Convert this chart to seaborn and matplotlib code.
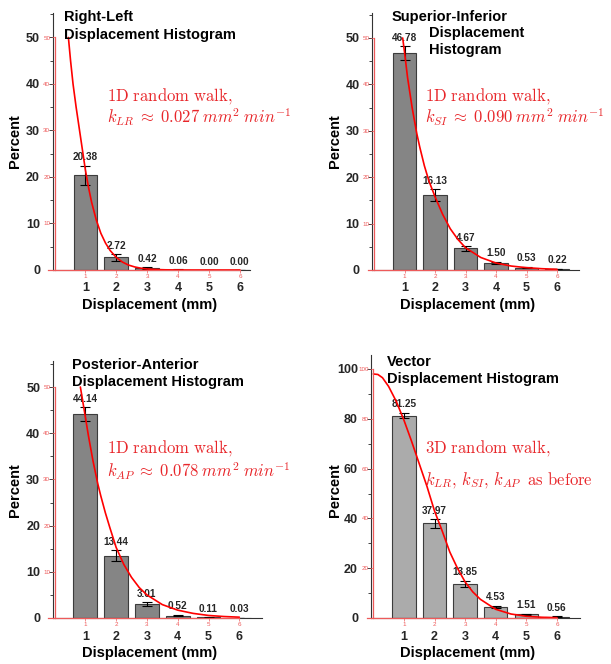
import numpy as np
import pandas as pd
import matplotlib
matplotlib.use("Agg")
import matplotlib.pyplot as plt
import seaborn as sns

sns.set_style("white")
plt.rcParams["font.family"] = ["Liberation Sans", "DejaVu Sans"]
plt.rcParams["mathtext.fontset"] = "cm"

# ---- data -------------------------------------------------------------
displacement_mm = [1, 2, 3, 4, 5, 6]

rl_pct = [20.38, 2.72, 0.42, 0.06, 0.00, 0.00]
rl_err = [2.0, 0.7, 0.2, 0.05, 0.0, 0.0]
si_pct = [46.78, 16.13, 4.67, 1.50, 0.53, 0.22]
si_err = [1.5, 1.3, 0.5, 0.25, 0.15, 0.08]
ap_pct = [44.14, 13.44, 3.01, 0.52, 0.11, 0.03]
ap_err = [1.5, 1.2, 0.45, 0.15, 0.06, 0.03]
vec_pct = [81.25, 37.97, 13.85, 4.53, 1.51, 0.56]
vec_err = [1.1, 1.7, 1.2, 0.4, 0.25, 0.15]

# random-walk model curves (percent vs displacement)
rl_fit_x = [0.45, 0.52, 0.6, 0.7, 0.8, 0.9, 1.0, 1.1, 1.2, 1.35, 1.5, 1.65, 1.8,
            2.0, 2.2, 2.4, 2.6, 2.8, 3.0, 3.3, 3.6, 4.0, 4.5, 5.0, 5.5, 6.0]
rl_fit_y = [50, 45, 40, 35, 30.5, 26, 21.5, 17.8, 14.6, 10.8, 7.9, 5.8, 4.2,
            2.7, 1.7, 1.05, 0.65, 0.38, 0.22, 0.1, 0.04, 0.01, 0, 0, 0, 0]
si_fit_x = [0.94, 1.0, 1.1, 1.25, 1.4, 1.5, 1.65, 1.8, 2.0, 2.25, 2.5, 2.75, 3.0,
            3.5, 4.0, 4.5, 5.0, 5.5, 6.0]
si_fit_y = [50, 47, 41.5, 35, 29.5, 26.5, 22.5, 19.2, 15.8, 12.0, 8.9, 6.6, 4.8,
            2.7, 1.5, 0.85, 0.5, 0.28, 0.15]
ap_fit_x = [0.84, 0.92, 1.0, 1.1, 1.25, 1.4, 1.5, 1.65, 1.8, 2.0, 2.25, 2.5, 2.75,
            3.0, 3.5, 4.0, 4.5, 5.0, 5.5, 6.0]
ap_fit_y = [50, 46.8, 43.6, 39.5, 34, 29.2, 26.5, 22.8, 19.5, 15.3, 11.6, 8.8, 6.6,
            5.0, 2.9, 1.7, 1.0, 0.55, 0.32, 0.18]
vec_fit_x = [0.0, 0.15, 0.3, 0.5, 0.75, 1.0, 1.25, 1.5, 1.75, 2.0, 2.25, 2.5,
             2.75, 3.0, 3.25, 3.5, 4.0, 4.5, 5.0, 5.5, 6.0]
vec_fit_y = [98, 97.8, 96.5, 93, 87, 79.5, 71, 62, 53, 43, 35, 26.5,
             20, 14.5, 10.5, 7.5, 3.5, 1.6, 0.7, 0.3, 0.12]

W, H = 611, 664
fig = plt.figure(figsize=(W / 100, H / 100), dpi=100)

RED_AX = "#ee5a5a"
RED_TXT = "#e8262a"


def fx(px):
    return px / W


def fy(py):
    return 1 - py / H


def panel(values, errors, fit_x, fit_y, bar_color, x0, step, left, right,
          y0, y_at_top_tick, top_tick, top, major, minor):
    """Bar panel with the model curve drawn on a red overlay axis."""
    per_unit = (y0 - y_at_top_tick) / top_tick
    xlim = ((left - x0) / step, (right - x0) / step)
    ylim = (0, (y0 - top) / per_unit)
    pos = [fx(left), fy(y0), (right - left) / W, (y0 - top) / H]

    ax = fig.add_axes(pos)
    df = pd.DataFrame({"mm": displacement_mm, "pct": values})
    sns.barplot(data=df, x="mm", y="pct", native_scale=True, width=0.77,
                color=bar_color, saturation=1, edgecolor="#3c3c3c",
                linewidth=0.8, errorbar=None, ax=ax)
    ax.errorbar(displacement_mm, values, yerr=errors, fmt="none",
                ecolor="black", elinewidth=0.8, capsize=3.5, capthick=0.8)
    for xv, v, e in zip(displacement_mm, values, errors):
        ax.annotate(f"{v:.2f}", (xv, v + e), xytext=(0, 2.5),
                    textcoords="offset points", ha="center", va="bottom",
                    fontsize=7.2, fontweight="bold")
    ax.set_xlim(*xlim)
    ax.set_ylim(*ylim)
    ax.set_xticks(displacement_mm)
    ax.set_xticklabels([str(d) for d in displacement_mm])
    ax.set_yticks(major)
    ax.set_yticks(minor, minor=True)
    ax.set_yticklabels([str(m) for m in major])
    for lab in ax.get_xticklabels() + ax.get_yticklabels():
        lab.set_fontweight("bold")
        lab.set_fontsize(9)
    ax.tick_params(axis="x", length=0, pad=9)
    ax.tick_params(axis="y", which="major", length=3, width=0.6,
                   direction="out", pad=6, left=True)
    ax.tick_params(axis="y", which="minor", length=2, width=0.6,
                   direction="out", left=True)
    ax.set_xlabel("")
    ax.set_ylabel("")
    for s in ("top", "right"):
        ax.spines[s].set_visible(False)
    ax.spines["left"].set_color("#333333")
    ax.spines["bottom"].set_color("#333333")
    ax.spines["left"].set_linewidth(0.8)
    ax.spines["bottom"].set_linewidth(0.8)

    # red overlay axis carrying the random-walk curve
    ax2 = fig.add_axes(pos)
    ax2.patch.set_visible(False)
    sns.lineplot(x=fit_x, y=fit_y, color="red", linewidth=1.2, sort=False,
                 estimator=None, ax=ax2)
    ax2.set_xlim(*xlim)
    ax2.set_ylim(*ylim)
    ax2.set_xticks(displacement_mm)
    ax2.set_xticklabels([str(d) for d in displacement_mm])
    ax2.set_yticks(major)
    ax2.set_yticklabels([""] + [str(m) for m in major[1:]])
    for s in ("top", "right"):
        ax2.spines[s].set_visible(False)
    ax2.spines["left"].set_position(("data", 0))
    ax2.spines["left"].set_bounds(0, major[-1])
    ax2.spines["bottom"].set_bounds(-0.2, 6)
    for s in ("left", "bottom"):
        ax2.spines[s].set_color(RED_AX)
        ax2.spines[s].set_linewidth(0.9)
    ax2.tick_params(axis="both", colors=RED_AX, labelsize=4.5, length=2.5,
                    width=0.5, pad=0.6, direction="out", left=True, bottom=True)
    ax2.set_xlabel("")
    ax2.set_ylabel("")
    return ax, ax2


def label_text(x, y, s, **kw):
    fig.text(fx(x), fy(y), s, **kw)


bold = dict(fontsize=10.5, fontweight="bold", color="black")
red = dict(color=RED_TXT, fontsize=12, va="baseline", ha="left")

# ---- top-left: right-left ---------------------------------------------
panel(rl_pct, rl_err, rl_fit_x, rl_fit_y, "#858585",
      x0=54.5, step=30.9, left=52.5, right=250, y0=270, y_at_top_tick=37.5,
      top_tick=50, top=13, major=[0, 10, 20, 30, 40, 50],
      minor=[5, 15, 25, 35, 45, 55])
label_text(64, 17, "Right-Left", va="center", ha="left", **bold)
label_text(64, 35, "Displacement Histogram", va="center", ha="left", **bold)
label_text(15, 141, "Percent", va="center", ha="center", rotation=90, **bold)
label_text(150, 305, "Displacement (mm)", va="center", ha="center", **bold)
label_text(107, 100, r"$\mathrm{1D\ random\ walk,}$", **red)
label_text(107, 123, r"$k_{LR}\;\approx\;0.027\;mm^2\;min^{-1}$", **red)

# ---- top-right: superior-inferior ------------------------------------
panel(si_pct, si_err, si_fit_x, si_fit_y, "#858585",
      x0=374, step=30.5, left=372, right=579, y0=270, y_at_top_tick=38,
      top_tick=50, top=13, major=[0, 10, 20, 30, 40, 50],
      minor=[5, 15, 25, 35, 45, 55])
label_text(392, 17, "Superior-Inferior", va="center", ha="left", **bold)
label_text(429, 33, "Displacement", va="center", ha="left", **bold)
label_text(429, 50, "Histogram", va="center", ha="left", **bold)
label_text(335, 141, "Percent", va="center", ha="center", rotation=90, **bold)
label_text(468, 305, "Displacement (mm)", va="center", ha="center", **bold)
label_text(425, 101, r"$\mathrm{1D\ random\ walk,}$", **red)
label_text(425, 123, r"$k_{SI}\;\approx\;0.090\;mm^2\;min^{-1}$", **red)

# ---- bottom-left: posterior-anterior ---------------------------------
panel(ap_pct, ap_err, ap_fit_x, ap_fit_y, "#858585",
      x0=54.5, step=30.8, left=52.7, right=262, y0=618, y_at_top_tick=387,
      top_tick=50, top=361, major=[0, 10, 20, 30, 40, 50],
      minor=[5, 15, 25, 35, 45, 55])
label_text(72, 365, "Posterior-Anterior", va="center", ha="left", **bold)
label_text(72, 382, "Displacement Histogram", va="center", ha="left", **bold)
label_text(15, 490, "Percent", va="center", ha="center", rotation=90, **bold)
label_text(150, 653, "Displacement (mm)", va="center", ha="center", **bold)
label_text(107, 452, r"$\mathrm{1D\ random\ walk,}$", **red)
label_text(107, 477, r"$k_{AP}\;\approx\;0.078\;mm^2\;min^{-1}$", **red)

# ---- bottom-right: vector --------------------------------------------
panel(vec_pct, vec_err, vec_fit_x, vec_fit_y, "#ababab",
      x0=373.3, step=30.6, left=370.5, right=580, y0=618, y_at_top_tick=369,
      top_tick=100, top=355, major=[0, 20, 40, 60, 80, 100],
      minor=[10, 30, 50, 70, 90])
label_text(387, 362, "Vector", va="center", ha="left", **bold)
label_text(387, 379, "Displacement Histogram", va="center", ha="left", **bold)
label_text(335, 490, "Percent", va="center", ha="center", rotation=90, **bold)
label_text(468, 653, "Displacement (mm)", va="center", ha="center", **bold)
label_text(425, 452, r"$\mathrm{3D\ random\ walk,}$", **red)
label_text(425, 484,
           r"$k_{LR},\,k_{SI},\,k_{AP}\;\;\mathrm{as\ before}$", **red)

fig.savefig("out.png", dpi=100)
